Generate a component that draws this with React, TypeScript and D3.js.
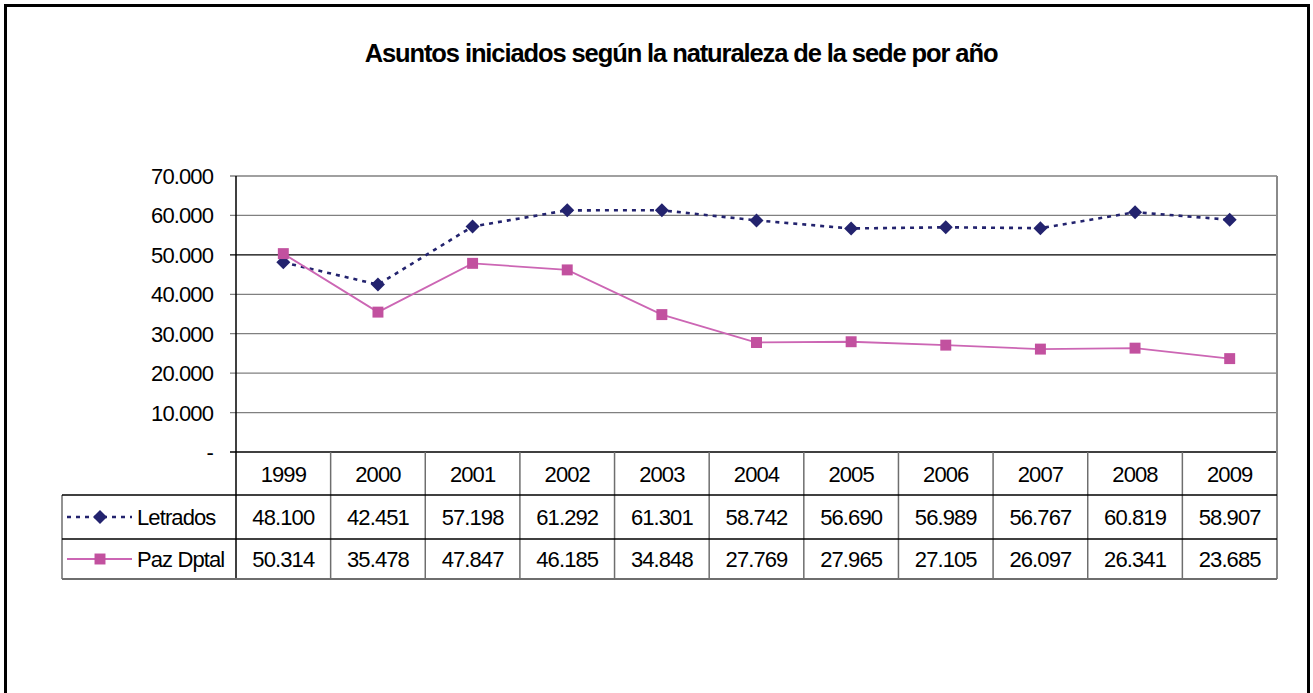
import React from "react";
import * as d3 from "d3";

// data
const years = ["1999", "2000", "2001", "2002", "2003", "2004", "2005", "2006", "2007", "2008", "2009"];
const letrados = [48100, 42451, 57198, 61292, 61301, 58742, 56690, 56989, 56767, 60819, 58907];
const pazDptal = [50314, 35478, 47847, 46185, 34848, 27769, 27965, 27105, 26097, 26341, 23685];
const yTicks = [0, 10000, 20000, 30000, 40000, 50000, 60000, 70000];

const title = "Asuntos iniciados según la naturaleza de la sede por año";
const NAVY = "#23236e";
const PINK = "#c2519f";
const PINK_LINE = "#cc66b4";
const FONT = "'Liberation Sans', Arial, sans-serif";
const FS = 22;
const LS = -0.9;

const locale = d3.formatLocale({ decimal: ",", thousands: ".", grouping: [3], currency: ["", ""] });
const fmt = (v: number) => (v === 0 ? "-" : locale.format(",.0f")(v));

const W = 1313;
const H = 693;
const plot = { left: 236, right: 1277, top: 176, bottom: 452 };
const tableRows = [452, 495, 539, 579];
const legendLeft = 62;

export default function App() {
  const x = d3.scaleBand<string>().domain(years).range([plot.left, plot.right]).padding(0);
  const y = d3.scaleLinear().domain([0, 70000]).range([plot.bottom, plot.top]);
  const cx = (yr: string) => (x(yr) as number) + x.bandwidth() / 2;

  const line = d3
    .line<number>()
    .x((_, i) => cx(years[i]))
    .y((d) => y(d));

  const diamond = d3.symbol().type(d3.symbolDiamond2 || d3.symbolDiamond).size(125)();
  const square = d3.symbol().type(d3.symbolSquare).size(120)();

  const series = [
    { name: "Letrados", values: letrados, color: NAVY, lineColor: NAVY, dash: "4,5", width: 2.6, marker: diamond },
    { name: "Paz Dptal", values: pazDptal, color: PINK, lineColor: PINK_LINE, dash: undefined, width: 1.8, marker: square },
  ];

  const bounds = [plot.left, ...years.map((yr) => (x(yr) as number) + x.bandwidth())];

  return (
    <div style={{ position: "absolute", left: 0, top: 0 }}>
      <svg width={W} height={H} style={{ display: "block", fontFamily: FONT }}>
        <rect x={0} y={0} width={W} height={H} fill="#fff" />
        <rect x={5.5} y={5.5} width={1303} height={720} fill="none" stroke="#000" strokeWidth={3} />

        <text x={681} y={62} textAnchor="middle" fontSize={25.5} fontWeight="bold" letterSpacing={-1.1} fill="#000">
          {title}
        </text>

        {/* gridlines */}
        {yTicks.map((t) => (
          <g key={t}>
            <line
              x1={plot.left - 6}
              x2={plot.right}
              y1={y(t)}
              y2={y(t)}
              stroke={t === 50000 || t === 0 ? "#000" : "#808080"}
              strokeWidth={t === 0 ? 1.5 : 1.3}
            />
            <text x={213} y={y(t) + 8} textAnchor="end" fontSize={FS} letterSpacing={LS} fill="#000">
              {fmt(t)}
            </text>
          </g>
        ))}
        <line x1={plot.left} x2={plot.left} y1={plot.top} y2={tableRows[3]} stroke="#000" strokeWidth={1.5} />
        <line x1={plot.right} x2={plot.right} y1={plot.top} y2={tableRows[3]} stroke="#8a8a8a" strokeWidth={2} />

        {/* series */}
        {series.map((s) => (
          <g key={s.name}>
            <path d={line(s.values) || ""} fill="none" stroke={s.lineColor} strokeWidth={s.width} strokeDasharray={s.dash} />
            {s.values.map((v, i) => (
              <path key={i} d={s.marker || ""} transform={`translate(${cx(years[i])},${y(v)})`} fill={s.color} />
            ))}
          </g>
        ))}

        {/* data table */}
        {bounds.slice(1, -1).map((bx, i) => (
          <line key={i} x1={bx} x2={bx} y1={tableRows[0]} y2={tableRows[3]} stroke="#6e6e6e" strokeWidth={1.5} />
        ))}
        <line x1={legendLeft} x2={legendLeft} y1={tableRows[1]} y2={tableRows[3]} stroke="#6e6e6e" strokeWidth={1.5} />
        <line x1={legendLeft} x2={plot.right} y1={tableRows[1]} y2={tableRows[1]} stroke="#000" strokeWidth={1.3} />
        <line x1={legendLeft} x2={plot.right} y1={tableRows[2]} y2={tableRows[2]} stroke="#000" strokeWidth={1.3} />
        <line x1={legendLeft} x2={plot.right} y1={tableRows[3]} y2={tableRows[3]} stroke="#6e6e6e" strokeWidth={2} />

        {years.map((yr) => (
          <text key={yr} x={cx(yr)} y={(tableRows[0] + tableRows[1]) / 2 + 8} textAnchor="middle" fontSize={FS} letterSpacing={LS}>
            {yr}
          </text>
        ))}

        {series.map((s, r) => {
          const rowMid = (tableRows[r + 1] + tableRows[r + 2]) / 2;
          return (
            <g key={s.name}>
              <line x1={67} x2={132} y1={rowMid} y2={rowMid} stroke={s.lineColor} strokeWidth={s.width} strokeDasharray={s.dash} />
              <path d={s.marker || ""} transform={`translate(100,${rowMid})`} fill={s.color} />
              <text x={137} y={rowMid + 8} fontSize={FS} letterSpacing={LS}>
                {s.name}
              </text>
              {s.values.map((v, i) => (
                <text key={i} x={cx(years[i])} y={rowMid + 8} textAnchor="middle" fontSize={FS} letterSpacing={LS}>
                  {fmt(v)}
                </text>
              ))}
            </g>
          );
        })}
      </svg>
    </div>
  );
}
